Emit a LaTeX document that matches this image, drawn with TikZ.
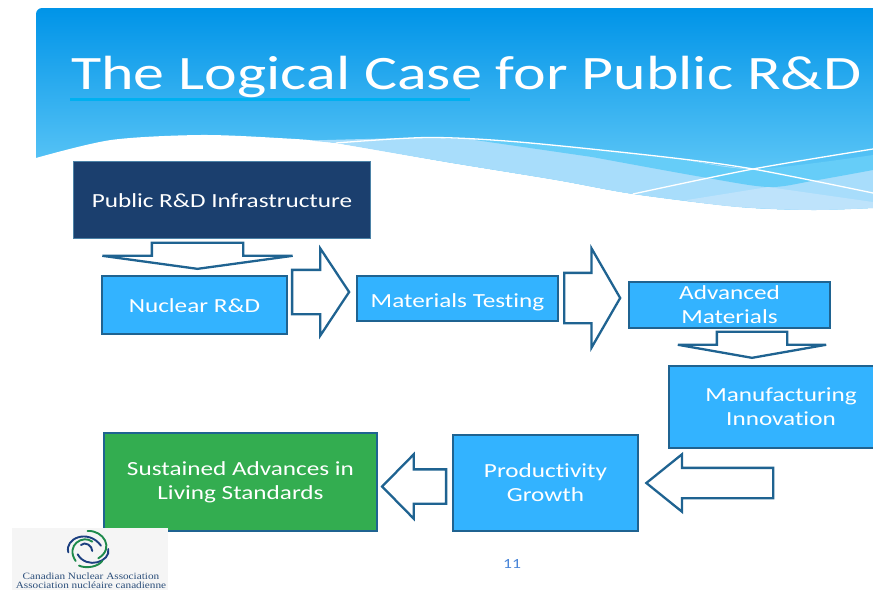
\documentclass[tikz,border=0pt]{standalone}
\usepackage{fontspec}
\setmainfont[FakeStretch=1.26,Ligatures=NoCommon]{Carlito}
\newfontfamily\titlefont[FakeStretch=1.29,Ligatures=NoCommon]{Carlito}
\newfontfamily\logofont[FakeStretch=1.17]{Liberation Serif}
\usetikzlibrary{positioning}
\usetikzlibrary{shapes.arrows}
\definecolor{skytop}{HTML}{0094E8}
\definecolor{skybottom}{HTML}{74D3FA}
\definecolor{bandmid}{HTML}{66CDF8}
\definecolor{bandlight}{HTML}{A8DDFB}
\definecolor{bandpale}{HTML}{BEE3FB}
\definecolor{ruleblue}{HTML}{00B0F0}
\definecolor{boxblue}{HTML}{33B3FF}
\definecolor{boxline}{HTML}{1F6391}
\definecolor{boxnavy}{HTML}{1B3F6E}
\definecolor{boxgreen}{HTML}{33AD50}
\definecolor{logonavy}{HTML}{1C3F80}
\definecolor{logogreen}{HTML}{1E8A4C}
\definecolor{logotext}{HTML}{2B4E7A}
\definecolor{pageblue}{HTML}{4A86D8}
\tikzset{
	stagebox/.style={draw=boxline, fill=boxblue, text=white, line width=2.3pt, align=center, font=\fontsize{20}{24}\selectfont, execute at begin node={\rule[-1pt]{0pt}{17pt}}},
	lowertext/.style={execute at begin node={\rule[-1pt]{0pt}{22pt}}},
	blockarrow/.style={single arrow, draw=boxline, fill=white, line width=2.3pt, inner sep=0pt, text depth=0pt, anchor=tip},
	arrowsize/.style n args={4}{minimum height=#1, text height=#2, minimum width=#2+2*#3, single arrow head extend=#3, single arrow tip angle=#4},
	arrowsizedown/.style n args={4}{minimum height=#1, text height=0pt, text width=#2, minimum width=#2+2*#3, single arrow head extend=#3, single arrow tip angle=#4, shape border rotate=270}
}

\begin{document}
\begin{tikzpicture}[x=1pt, y=-1pt]
	\useasboundingbox (0,0) rectangle (873,590);
	
	% Header and wave
	\shade [top color=skytop, bottom color=skybottom, rounded corners=6pt] (36,215) -- (36,8) -- (880,8) [sharp corners] -- (880,215) -- cycle;
	\fill [white] plot [smooth] coordinates {(36,158) (111,140) (200,135) (278,138) (336,143) (446,162) (556,180) (633,194) (739,207) (812,210) (873,208)} -- (873,225) -- (36,225) -- cycle;
	\fill [bandlight] plot [smooth] coordinates {(310,140.5) (428,138) (519,142) (665,157) (753,169) (873,170)} -- plot [smooth] coordinates {(873,208) (812,210) (739,207) (633,194) (556,180) (446,162) (336,143)} -- cycle;
	\fill [bandmid] plot [smooth] coordinates {(475,140) (519,142) (665,157) (753,169) (873,155)} -- plot [smooth] coordinates {(873,170) (812,181) (768,187) (702,177) (592,157)} -- cycle;
	\fill [bandpale] (687,200) -- (768,187) -- (873,202) -- plot [smooth] coordinates {(873,208) (812,210) (739,207) (687,201)} -- cycle;
	\draw [white, line width=1.3pt] plot [smooth] coordinates {(336,143) (428,137.5) (519,142) (665,157) (753,169) (873,193)};
	\draw [white, line width=1.3pt] plot [smooth] coordinates {(633,194) (753,169) (873,149)};
	
	% Title
	\node [anchor=base west, inner sep=0pt, text=white, font=\titlefont\fontsize{48}{48}\selectfont] at (71,89) (title) {The Logical Case for Public R\&D};
	\fill [ruleblue] (70,97.5) rectangle (470,100.5);
	
	% Stages
	\node [stagebox, fill=boxnavy, draw=boxline!80, line width=1.6pt, minimum width=297pt, minimum height=77pt] at (222,200) (publicRD) {Public R\&D Infrastructure};
	\node [stagebox, minimum width=185pt, minimum height=58pt] at (194.5,305) (nuclearRD) {Nuclear R\&D};
	\node [stagebox, lowertext, minimum width=201pt, minimum height=45pt] at (457.5,298.5) (testing) {Materials Testing};
	\node [stagebox, lowertext, minimum width=201pt, minimum height=46pt] at (729.5,305) (materials) {Advanced\\Materials};
	\node [stagebox, lowertext, minimum width=224pt, minimum height=82pt] at (781,407) (innovation) {Manufacturing\\Innovation};
	\node [stagebox, lowertext, minimum width=185pt, minimum height=96pt] at (545.5,483) (productivity) {Productivity\\Growth};
	\node [stagebox, lowertext, fill=boxgreen, minimum width=273pt, minimum height=98pt] at (240.5,482) (advances) {Sustained Advances in\\Living Standards};
	
	% Connections
	\node [blockarrow, arrowsizedown={26pt}{89pt}{49.5pt}{164.4}] at (197.5,270) (toNuclear) {};
	\node [blockarrow, arrowsize={57pt}{42pt}{21.5pt}{113}, shape border rotate=0] at (350.5,292) (toTesting) {};
	\node [blockarrow, arrowsize={56pt}{48pt}{24.5pt}{120}, shape border rotate=0] at (621.5,298) (toMaterials) {};
	\node [blockarrow, arrowsizedown={26pt}{68pt}{39pt}{160}] at (752,359) (toInnovation) {};
	\node [blockarrow, arrowsize={127pt}{28pt}{13.5pt}{77.7}, shape border rotate=180] at (644.5,483) (toProductivity) {};
	\node [blockarrow, arrowsize={64pt}{32pt}{15pt}{91}, shape border rotate=180] at (380.5,486.5) (toAdvances) {};
	
	% Page number
	\node [text=pageblue, font=\fontsize{14}{14}\selectfont] at (512,564) (pagenum) {11};
	
	% Logo
	\fill [black!4] (12,528) rectangle (168,590);
	\begin{scope}[shift={(55,525)}, x=.333pt, y=-.333pt, line width=1.9pt, line cap=round]
		\draw [logonavy] (40,82) .. controls (28,40) and (100,10) .. (138,62);
		\draw [logonavy] (160,72) .. controls (168,110) and (95,135) .. (68,88);
		\draw [logogreen] (62,108) .. controls (30,60) and (85,28) .. (112,50);
		\draw [logogreen] (98,18) .. controls (145,15) and (180,70) .. (130,100);
		\draw [logogreen] (72,122) .. controls (95,132) and (130,125) .. (142,108);
		\draw [logonavy] (78,60) .. controls (90,48) and (112,62) .. (112,78);
	\end{scope}
	\node [inner sep=0pt, text=logotext, font=\logofont\fontsize{9.6}{9}\selectfont, align=center] at (91,580.5) (logotitle) {Canadian Nuclear Association\\Association nucléaire canadienne};
\end{tikzpicture}
\end{document}
